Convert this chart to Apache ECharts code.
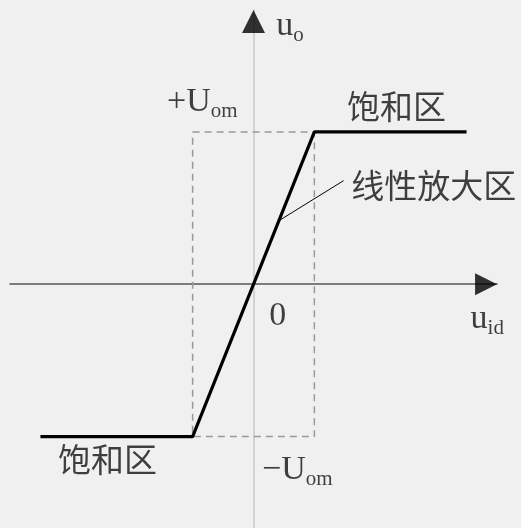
<!DOCTYPE html>
<html>
<head>
<meta charset="utf-8">
<script src="https://cdn.jsdelivr.net/npm/echarts@6/dist/echarts.min.js"></script>
<style>
  html, body { margin: 0; padding: 0; background: #f0f0f0; }
  #chart { width: 521px; height: 528px; }
</style>
</head>
<body>
<div id="chart"></div>
<script>
// Op-amp voltage transfer characteristic: u_o versus u_id
// x in units of the linear-region half width, y in units of U_om
const transferCurve = [[-3.5, -1], [-1, -1], [1, 1], [3.5, 1]];
const boundBox = [[-1, 1], [1, 1], [1, -1], [-1, -1], [-1, 1]];
const leader = [[0.43, 0.42], [1.48, 0.68]];
const xRange = [-4, 4];
const yRange = [-1.6, 1.8];
const xArrowAt = [3.82, 0];
const yArrowAt = [0, 1.725];

const serif = "'Liberation Serif', 'DejaVu Serif', serif";
const cjk = "'Noto Sans CJK SC', sans-serif";

// text labels: [x, y, rich text]
const labels = [
  [0.6, 1.7, '{m|u}{s|o}'],
  [-0.84, 1.2, '{m|+U}{s|om}'],
  [2.35, 1.17, '{c|饱和区}'],
  [2.96, 0.65, '{c|线性放大区}'],
  [0.4, -0.2, '{m|0}'],
  [3.84, -0.22, '{m|u}{s|id}'],
  [-2.4, -1.15, '{c|饱和区}'],
  [0.72, -1.21, '{m|−U}{s|om}']
];

const chart = echarts.init(document.getElementById('chart'), null, { renderer: 'canvas' });

chart.setOption({
  backgroundColor: '#f0f0f0',
  animation: false,
  grid: { left: 10, right: 24, top: 10, bottom: 0 },
  xAxis: {
    type: 'value', min: xRange[0], max: xRange[1],
    axisLine: { onZero: true, lineStyle: { color: '#555', width: 1.5 } },
    axisTick: { show: false }, axisLabel: { show: false }, splitLine: { show: false }
  },
  yAxis: {
    type: 'value', min: yRange[0], max: yRange[1],
    axisLine: { onZero: true, lineStyle: { color: '#c8c8c8', width: 1.5 } },
    axisTick: { show: false }, axisLabel: { show: false }, splitLine: { show: false }
  },
  series: [
    {
      type: 'line', data: boundBox, symbol: 'none', silent: true,
      lineStyle: { color: '#999', width: 1.5, type: [7, 5] }, z: 2
    },
    {
      type: 'line', data: leader, symbol: 'none', silent: true,
      lineStyle: { color: '#000', width: 1 }, z: 3
    },
    {
      type: 'line', data: transferCurve, symbol: 'none', silent: true,
      lineStyle: { color: '#000', width: 3.2 }, z: 4
    },
    {
      type: 'scatter', data: [xArrowAt], symbol: 'triangle',
      symbolSize: [22, 22], symbolRotate: -90,
      itemStyle: { color: '#000' }, silent: true, z: 5
    },
    {
      type: 'scatter', data: [yArrowAt], symbol: 'triangle',
      symbolSize: [23, 23],
      itemStyle: { color: '#000' }, silent: true, z: 5
    },
    {
      type: 'scatter', symbolSize: 0, silent: true, z: 6,
      data: labels.map(l => ({ value: [l[0], l[1]], text: l[2] })),
      label: {
        show: true, position: 'inside', align: 'center', verticalAlign: 'middle',
        formatter: p => p.data.text,
        rich: {
          m: { fontFamily: serif, fontSize: 34, color: '#111', verticalAlign: 'bottom', lineHeight: 36 },
          s: { fontFamily: serif, fontSize: 21, color: '#111', verticalAlign: 'bottom', lineHeight: 36, padding: [0, 0, -3, 0] },
          c: { fontFamily: cjk, fontSize: 33, color: '#111', lineHeight: 36 }
        }
      }
    }
  ]
});
</script>
</body>
</html>
